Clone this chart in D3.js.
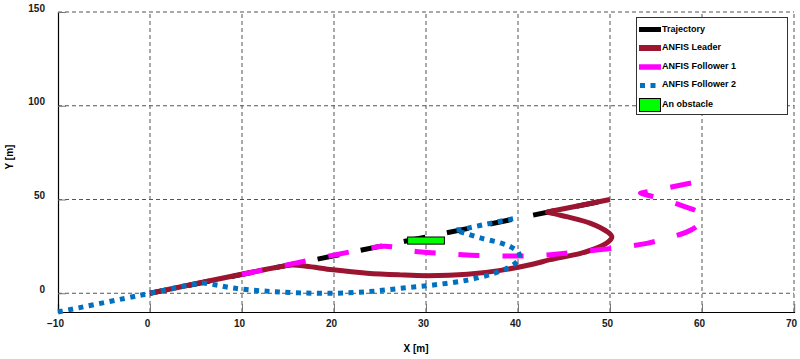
<!DOCTYPE html>
<html>
<head>
<meta charset="utf-8">
<script src="https://cdn.jsdelivr.net/npm/d3@7"></script>
<style>
  body { margin: 0; background: #fff; }
  text { font-family: "Liberation Sans", Arial, sans-serif; font-weight: bold; }
</style>
</head>
<body>
<div id="chart"></div>
<script>
var chartWidth = 800;
var chartHeight = 359;

// Tick values
var xTicks = [-10, 0, 10, 20, 30, 40, 50, 60, 70];
var yTicks = [0, 50, 100, 150];

// Series as [x, y] in metres
var trajectory = [[0, 0], [50, 50]];

var leader = [
  [0, 0], [14, 14], [15.5, 15], [17, 14.4], [19.9, 12.5], [23.6, 10.7],
  [27.2, 9.8], [30.1, 9.4], [34.5, 10.1], [38.1, 12.2], [41.7, 15.6],
  [43.5, 17.9], [46.8, 21.3], [48.6, 24.2], [49.8, 27.4], [50.2, 30.1],
  [49.7, 32.8], [47.9, 37.3], [45.4, 40.7], [44, 42.3], [43.2, 43.4],
  [44, 44.1], [50, 50]
];

var follower1 = [
  [10, 10], [24, 24.2], [25.4, 25.1], [26.6, 24.6], [27.8, 23.2],
  [29.5, 22], [32, 21.2], [34, 20.5], [37, 20], [41.7, 20], [46.4, 22],
  [51.1, 24.5], [54, 26.6], [56.3, 29.5], [58.3, 32.6], [59.5, 36],
  [60.1, 40], [59.6, 43.3], [57.9, 46.6], [55.5, 50.5], [54, 52.4],
  [53.3, 53.4], [54.1, 54.1], [60, 60]
];

var follower2 = [
  [-10, -10], [0, 0], [4.5, 4.6], [5.8, 5.4], [7.2, 4.4], [8.5, 3.2],
  [10, 2.2], [13, 1], [16.3, 0.2], [20, 0], [23.6, 0.8], [27.2, 2.6],
  [30.8, 4.4], [34.5, 7], [37.3, 10.5], [38.8, 13.3], [39.9, 16.8],
  [40.2, 19.5], [40, 22], [39.2, 24.8], [38.1, 26.8], [35.9, 29.5],
  [34.5, 31.6], [33.6, 32.9], [33.2, 33.6], [33.9, 34.1], [36.5, 36.8],
  [40, 40.3]
];

// Obstacle corners [x0, y0, x1, y1]
var obstacle = [28, 26.2, 32, 30];

var legendNames = ['Trajectory', 'ANFIS Leader', 'ANFIS Follower 1', 'ANFIS Follower 2', 'An obstacle'];

var svg = d3.select('#chart')
    .append('svg')
    .attr('width', chartWidth)
    .attr('height', chartHeight);

// Scales
var scaleX = d3.scaleLinear().domain([-10, 70]).range([58, 794]);
var scaleY = d3.scaleLinear().domain([-10, 150]).range([312, 12]);

// Grid
svg.append('g').selectAll('line')
    .data(xTicks.filter(function(d) { return d > -10; }))
    .enter()
    .append('line')
    .attr('x1', function(d) { return scaleX(d); })
    .attr('x2', function(d) { return scaleX(d); })
    .attr('y1', scaleY(-10))
    .attr('y2', scaleY(150))
    .attr('stroke', '#555')
    .attr('stroke-dasharray', '4,3');

svg.append('g').selectAll('line')
    .data(yTicks)
    .enter()
    .append('line')
    .attr('x1', scaleX(-10))
    .attr('x2', scaleX(70))
    .attr('y1', function(d) { return scaleY(d); })
    .attr('y2', function(d) { return scaleY(d); })
    .attr('stroke', '#555')
    .attr('stroke-dasharray', '4,3');

// Axes
var xAxis = svg.append('g')
    .attr('transform', 'translate(0,' + scaleY(-10) + ')')
    .call(d3.axisBottom(scaleX).tickValues(xTicks).tickSize(-8).tickPadding(8)
      .tickFormat(d3.format('d')));

var yAxis = svg.append('g')
    .attr('transform', 'translate(' + scaleX(-10) + ',0)')
    .call(d3.axisLeft(scaleY).tickValues(yTicks).tickSize(-8).tickPadding(13));

[xAxis, yAxis].forEach(function(ax) {
  ax.select('.domain').attr('stroke', '#000').attr('stroke-width', 1.2);
  ax.selectAll('.tick line').attr('stroke', '#777');
  ax.selectAll('.tick text')
      .attr('fill', '#1a1a1a')
      .style('font-size', '10px')
      .style('font-family', '"Liberation Sans", Arial, sans-serif')
      .style('font-weight', 'bold');
});
xAxis.selectAll('.tick text').attr('dx', '-3');
yAxis.selectAll('.tick text').attr('dy', '-1');

// Axis titles
svg.append('text')
    .text('X [m]')
    .attr('x', 416)
    .attr('y', 352)
    .attr('text-anchor', 'middle')
    .style('font-size', '10px');

svg.append('text')
    .text('Y [m]')
    .attr('transform', 'translate(13,157) rotate(-90)')
    .attr('text-anchor', 'middle')
    .style('font-size', '10px');

// Lines
var line = d3.line()
    .x(function(d) { return scaleX(d[0]); })
    .y(function(d) { return scaleY(d[1]); });

var smooth = d3.line()
    .curve(d3.curveCatmullRom.alpha(0.5))
    .x(function(d) { return scaleX(d[0]); })
    .y(function(d) { return scaleY(d[1]); });

svg.append('path')
    .attr('d', line(trajectory))
    .attr('fill', 'none')
    .attr('stroke', '#000')
    .attr('stroke-width', 5)
    .attr('stroke-dasharray', '22,22')
    .attr('stroke-dashoffset', 5);

svg.append('path')
    .attr('d', smooth(leader))
    .attr('fill', 'none')
    .attr('stroke', '#9b1430')
    .attr('stroke-width', 5)
    .attr('stroke-linejoin', 'round');

svg.append('path')
    .attr('d', smooth(follower1))
    .attr('fill', 'none')
    .attr('stroke', '#ff00ff')
    .attr('stroke-width', 5)
    .attr('stroke-dasharray', '21,23');

svg.append('path')
    .attr('d', smooth(follower2))
    .attr('fill', 'none')
    .attr('stroke', '#0070c0')
    .attr('stroke-width', 5)
    .attr('stroke-dasharray', '5,5.5');

// Obstacle
svg.append('rect')
    .attr('x', scaleX(obstacle[0]))
    .attr('y', scaleY(obstacle[3]))
    .attr('width', scaleX(obstacle[2]) - scaleX(obstacle[0]))
    .attr('height', scaleY(obstacle[1]) - scaleY(obstacle[3]))
    .attr('fill', '#00ff00')
    .attr('stroke', '#000')
    .attr('stroke-width', 1);

// Legend
var legend = svg.append('g');
legend.append('rect')
    .attr('x', 636.5)
    .attr('y', 17.5)
    .attr('width', 151)
    .attr('height', 97)
    .attr('fill', '#fff')
    .attr('stroke', '#333');

var textY = [28.5, 46.5, 65.5, 83.5, 103.5];

legend.append('line')
    .attr('x1', 639).attr('x2', 661).attr('y1', 29.5).attr('y2', 29.5)
    .attr('stroke', '#000').attr('stroke-width', 5);
legend.append('line')
    .attr('x1', 639).attr('x2', 661).attr('y1', 48).attr('y2', 48)
    .attr('stroke', '#9b1430').attr('stroke-width', 6);
legend.append('line')
    .attr('x1', 639).attr('x2', 661).attr('y1', 67).attr('y2', 67)
    .attr('stroke', '#ff00ff').attr('stroke-width', 5.5);
legend.append('line')
    .attr('x1', 640).attr('x2', 656).attr('y1', 85.5).attr('y2', 85.5)
    .attr('stroke', '#0070c0').attr('stroke-width', 5)
    .attr('stroke-dasharray', '5,5.5');
legend.append('rect')
    .attr('x', 639.5).attr('y', 98.5).attr('width', 21).attr('height', 13)
    .attr('fill', '#00ff00').attr('stroke', '#000');

legend.selectAll('text')
    .data(legendNames)
    .enter()
    .append('text')
    .text(function(d) { return d; })
    .attr('x', 662)
    .attr('y', function(d, i) { return textY[i] + 3.3; })
    .style('font-size', '9px');
</script>
</body>
</html>
